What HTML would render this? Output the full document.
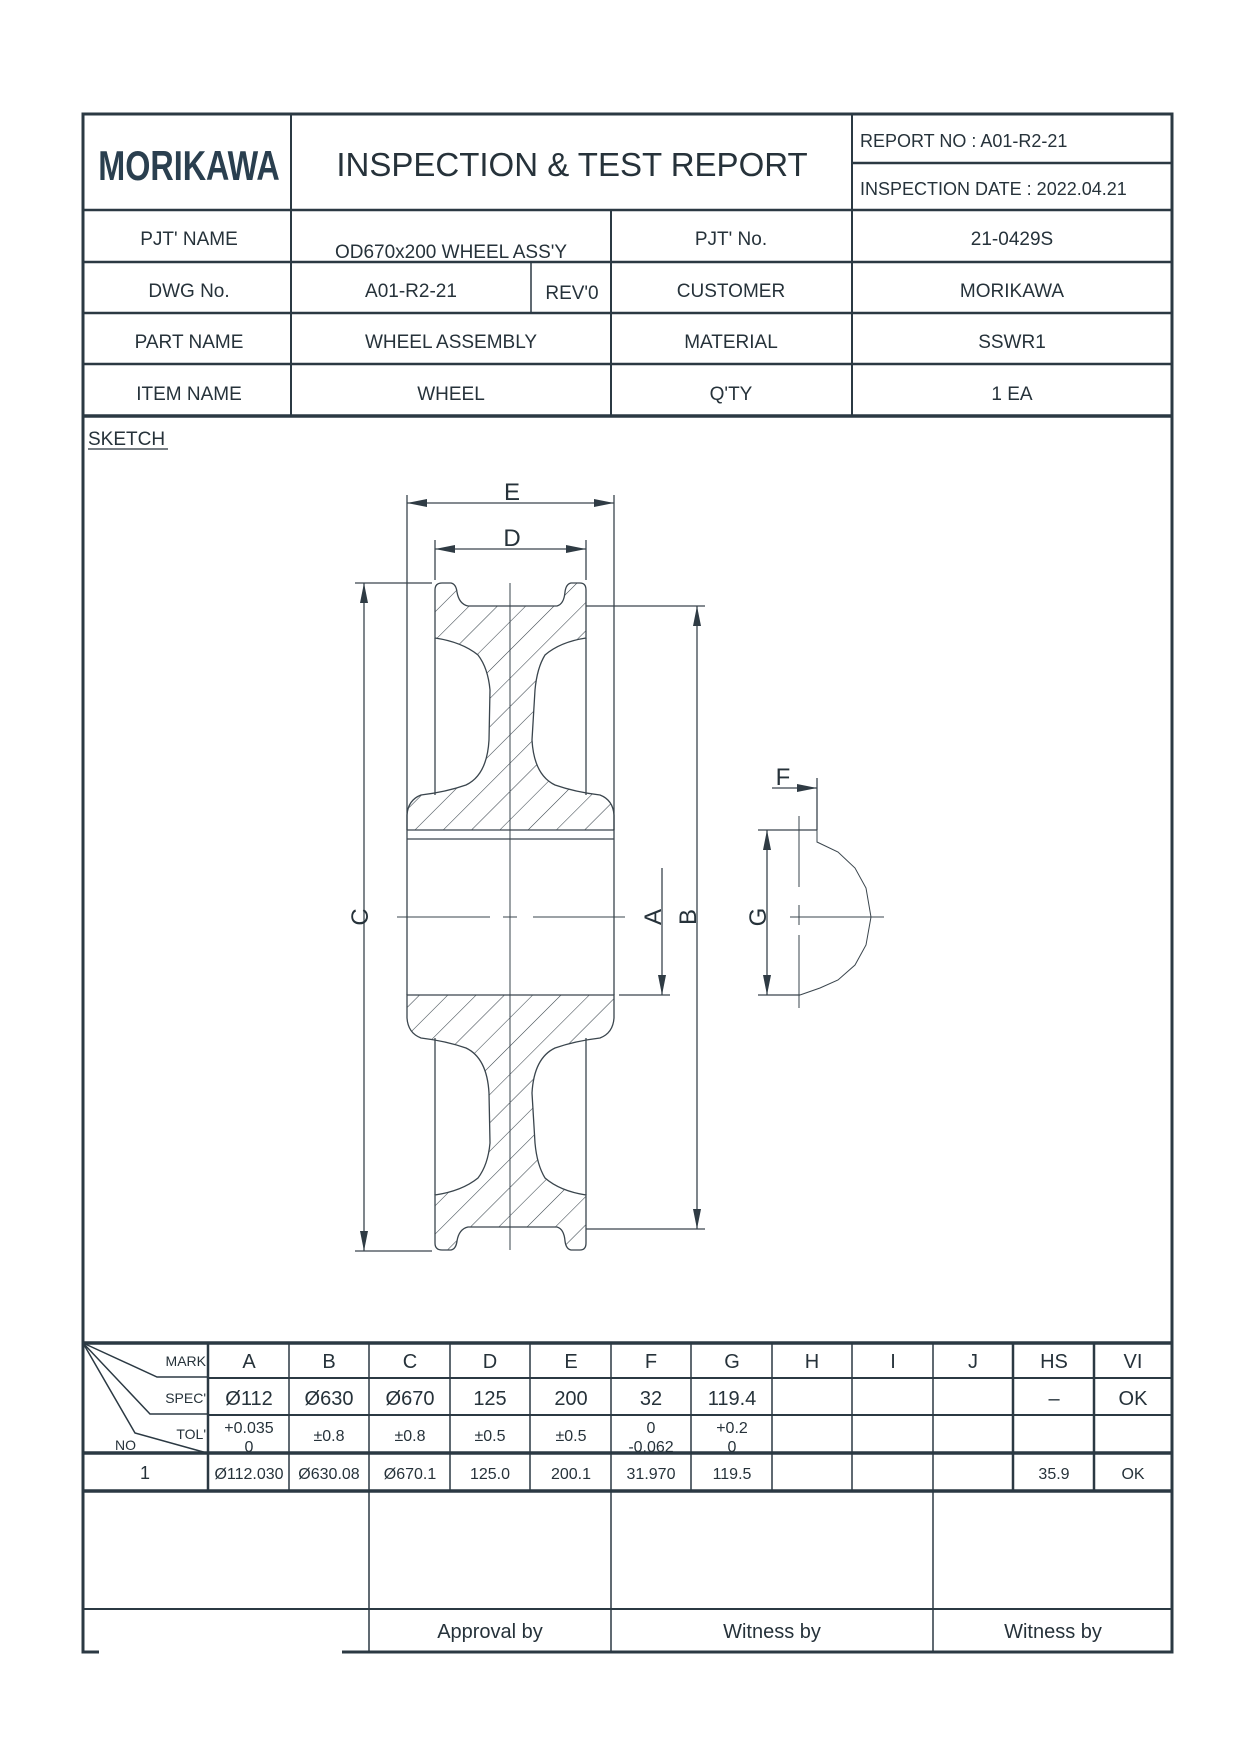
<!DOCTYPE html>
<html><head><meta charset="utf-8"><style>
html,body{margin:0;padding:0;background:#fff}
svg{display:block}
text{font-family:"Liberation Sans",sans-serif;fill:#26323a}
</style></head><body>
<svg width="1240" height="1755" viewBox="0 0 1240 1755" xmlns="http://www.w3.org/2000/svg">
<defs>
<pattern id="h" patternUnits="userSpaceOnUse" width="20" height="20" patternTransform="rotate(45)">
<line x1="0" y1="0" x2="0" y2="20" stroke="#3a454d" stroke-width="1.1"/>
</pattern>
<marker id="ar" viewBox="0 0 20 8" refX="20" refY="4" markerWidth="20" markerHeight="8" markerUnits="userSpaceOnUse" orient="auto-start-reverse">
<path d="M0,0 L20,4 L0,8 z" fill="#2f3b44"/>
</marker>
<path id="sec" d="M435,590 Q435,583 442,583 L451,583 Q456,584 457,592 Q459,604 468,606 L557,606 Q564,604 565,592 Q566,584 571,583 L580,583 Q586,583 586,590 L586,638 Q560,642 545,655 Q537,668 535,690 L532,740 Q534,775 555,785 Q575,792 600,795 Q613,800 614,815 L614,838 L407,838 L407,815 Q408,800 421,795 Q446,792 466,785 Q487,775 489,740 L490,690 Q488,668 478,655 Q462,642 435,638 Z"/>
<clipPath id="cb"><use href="#sec" transform="translate(0,1833) scale(1,-1)"/></clipPath>
</defs>
<g stroke="#2b3943" fill="none">
<rect x="83" y="114" width="1089" height="1538" stroke-width="3"/>
<line x1="83" y1="210" x2="1172" y2="210" stroke-width="2.5"/>
<line x1="83" y1="262" x2="1172" y2="262" stroke-width="2.5"/>
<line x1="83" y1="313" x2="1172" y2="313" stroke-width="2.5"/>
<line x1="83" y1="364" x2="1172" y2="364" stroke-width="2.5"/>
<line x1="83" y1="416" x2="1172" y2="416" stroke-width="3.5"/>
<line x1="852" y1="163" x2="1172" y2="163" stroke-width="2.5"/>
<line x1="291" y1="114" x2="291" y2="416" stroke-width="2"/>
<line x1="852" y1="114" x2="852" y2="416" stroke-width="2"/>
<line x1="611" y1="210" x2="611" y2="416" stroke-width="2"/>
<line x1="531" y1="262" x2="531" y2="313" stroke-width="1.5"/>
<line x1="83" y1="1343" x2="1172" y2="1343" stroke-width="3.5"/>
<line x1="208" y1="1378" x2="1172" y2="1378" stroke-width="2"/>
<line x1="208" y1="1415" x2="1172" y2="1415" stroke-width="2"/>
<line x1="83" y1="1453" x2="1172" y2="1453" stroke-width="3.5"/>
<line x1="83" y1="1491" x2="1172" y2="1491" stroke-width="3.5"/>
<line x1="83" y1="1609" x2="1172" y2="1609" stroke-width="2"/>
<line x1="208" y1="1343" x2="208" y2="1491" stroke-width="2.5"/>
<line x1="289" y1="1343" x2="289" y2="1491" stroke-width="1.5"/>
<line x1="369" y1="1343" x2="369" y2="1652" stroke-width="1.5"/>
<line x1="450" y1="1343" x2="450" y2="1491" stroke-width="1.5"/>
<line x1="530" y1="1343" x2="530" y2="1491" stroke-width="1.5"/>
<line x1="611" y1="1343" x2="611" y2="1652" stroke-width="1.5"/>
<line x1="691" y1="1343" x2="691" y2="1491" stroke-width="1.5"/>
<line x1="772" y1="1343" x2="772" y2="1491" stroke-width="1.5"/>
<line x1="852" y1="1343" x2="852" y2="1491" stroke-width="1.5"/>
<line x1="933" y1="1343" x2="933" y2="1652" stroke-width="1.5"/>
<line x1="1013" y1="1343" x2="1013" y2="1491" stroke-width="2.5"/>
<line x1="1094" y1="1343" x2="1094" y2="1491" stroke-width="2.5"/>
<polyline points="83,1343 157,1377 207,1377" stroke-width="1.5"/>
<polyline points="83,1343 150,1414 207,1414" stroke-width="1.5"/>
<polyline points="83,1343 135,1433 207,1453" stroke-width="1.5"/>
</g>
<rect x="99" y="1611" width="243" height="100" fill="#fff"/>

<text x="189" y="180" font-size="42" font-weight="bold" text-anchor="middle" transform="translate(189 0) scale(0.77 1) translate(-189 0)" style="fill:#2a3f4f">MORIKAWA</text>
<text x="572" y="176" font-size="33" text-anchor="middle">INSPECTION &amp; TEST REPORT</text>
<text x="860" y="147" font-size="18">REPORT NO : A01-R2-21</text>
<text x="860" y="195" font-size="18">INSPECTION DATE : 2022.04.21</text>
<g font-size="19" text-anchor="middle">
<text x="189" y="245">PJT' NAME</text>
<text x="451" y="258">OD670x200 WHEEL ASS'Y</text>
<text x="731" y="245">PJT' No.</text>
<text x="1012" y="245">21-0429S</text>
<text x="189" y="297">DWG No.</text>
<text x="411" y="297">A01-R2-21</text>
<text x="572" y="299">REV'0</text>
<text x="731" y="297">CUSTOMER</text>
<text x="1012" y="297">MORIKAWA</text>
<text x="189" y="348">PART NAME</text>
<text x="451" y="348">WHEEL ASSEMBLY</text>
<text x="731" y="348">MATERIAL</text>
<text x="1012" y="348">SSWR1</text>
<text x="189" y="400">ITEM NAME</text>
<text x="451" y="400">WHEEL</text>
<text x="731" y="400">Q'TY</text>
<text x="1012" y="400">1 EA</text>
</g>
<text x="88" y="445" font-size="19">SKETCH</text>
<line x1="88" y1="449" x2="168" y2="449" stroke="#26323a" stroke-width="1.2"/>

<g stroke="#3a454d" stroke-width="1.3" fill="none">
<use href="#sec" fill="url(#h)" stroke="#3a454d"/>
<rect x="400" y="990" width="220" height="265" fill="url(#h)" stroke="none" clip-path="url(#cb)"/>
<use href="#sec" transform="translate(0,1833) scale(1,-1)" fill="none" stroke="#3a454d"/>
<rect x="400" y="830" width="220" height="9" fill="#fff" stroke="none"/>
<line x1="407" y1="830" x2="614" y2="830"/>
<line x1="407" y1="839" x2="614" y2="839"/>
<line x1="435" y1="638" x2="435" y2="795"/>
<line x1="586" y1="638" x2="586" y2="795"/>
<line x1="435" y1="1038" x2="435" y2="1195"/>
<line x1="586" y1="1038" x2="586" y2="1195"/>
<line x1="407" y1="495" x2="407" y2="995"/>
<line x1="614" y1="495" x2="614" y2="995"/>
<line x1="435" y1="540" x2="435" y2="580"/>
<line x1="586" y1="540" x2="586" y2="580"/>
<line x1="407" y1="503" x2="614" y2="503" marker-start="url(#ar)" marker-end="url(#ar)"/>
<line x1="435" y1="549" x2="586" y2="549" marker-start="url(#ar)" marker-end="url(#ar)"/>
<line x1="510" y1="583" x2="510" y2="1250" stroke-width="1"/>
<line x1="397" y1="917" x2="490" y2="917" stroke-width="1"/>
<line x1="503" y1="917" x2="517" y2="917" stroke-width="1"/>
<line x1="533" y1="917" x2="625" y2="917" stroke-width="1"/>
<line x1="355" y1="583" x2="432" y2="583"/>
<line x1="355" y1="1251" x2="432" y2="1251"/>
<line x1="364" y1="583" x2="364" y2="1251" marker-start="url(#ar)" marker-end="url(#ar)"/>
<line x1="586" y1="606" x2="705" y2="606"/>
<line x1="586" y1="1229" x2="705" y2="1229"/>
<line x1="697" y1="606" x2="697" y2="1229" marker-start="url(#ar)" marker-end="url(#ar)"/>
<line x1="619" y1="995" x2="670" y2="995"/>
<line x1="662" y1="868" x2="662" y2="995" marker-end="url(#ar)"/>
<line x1="772" y1="788" x2="817" y2="788" marker-end="url(#ar)"/>
<line x1="817" y1="778" x2="817" y2="830"/>
<line x1="758" y1="830" x2="817" y2="830"/>
<line x1="758" y1="995" x2="800" y2="995"/>
<line x1="767" y1="830" x2="767" y2="995" marker-start="url(#ar)" marker-end="url(#ar)"/>
<line x1="799" y1="816" x2="799" y2="887" stroke-width="1"/>
<line x1="799" y1="905" x2="799" y2="925" stroke-width="1"/>
<line x1="799" y1="935" x2="799" y2="1008" stroke-width="1"/>
<line x1="790" y1="917" x2="884" y2="917" stroke-width="1"/>
<polyline stroke-width="1" points="817,830 817,842 838,852 855,868 866,888 871,917 866,945 855,965 838,980 820,988 800,995"/>
</g>
<g font-size="24" text-anchor="middle">
<text x="512" y="500">E</text>
<text x="512" y="546">D</text>
<text x="783" y="785">F</text>
<text transform="translate(360 917) rotate(-90)" y="8">C</text>
<text transform="translate(653 917) rotate(-90)" y="8">A</text>
<text transform="translate(688 917) rotate(-90)" y="8">B</text>
<text transform="translate(758 917) rotate(-90)" y="8">G</text>
</g>

<g font-size="14" text-anchor="end">
<text x="206" y="1366">MARK</text>
<text x="206" y="1403">SPEC'</text>
<text x="206" y="1439">TOL'</text>
</g>
<text x="115" y="1450" font-size="14">NO</text>
<g font-size="20" text-anchor="middle">
<text x="249" y="1368">A</text><text x="329" y="1368">B</text><text x="410" y="1368">C</text>
<text x="490" y="1368">D</text><text x="571" y="1368">E</text><text x="651" y="1368">F</text>
<text x="732" y="1368">G</text><text x="812" y="1368">H</text><text x="893" y="1368">I</text>
<text x="973" y="1368">J</text><text x="1054" y="1368">HS</text><text x="1133" y="1368">VI</text>
<text x="249" y="1405">Ø112</text><text x="329" y="1405">Ø630</text><text x="410" y="1405">Ø670</text>
<text x="490" y="1405">125</text><text x="571" y="1405">200</text><text x="651" y="1405">32</text>
<text x="732" y="1405">119.4</text><text x="1054" y="1405">–</text><text x="1133" y="1405">OK</text>
</g>
<g font-size="16" text-anchor="middle">
<text x="249" y="1433">+0.035</text><text x="249" y="1452">0</text>
<text x="329" y="1441">±0.8</text><text x="410" y="1441">±0.8</text>
<text x="490" y="1441">±0.5</text><text x="571" y="1441">±0.5</text>
<text x="651" y="1433">0</text><text x="651" y="1452">-0.062</text>
<text x="732" y="1433">+0.2</text><text x="732" y="1452">0</text>
<text x="145" y="1479" font-size="18">1</text>
<text x="249" y="1479">Ø112.030</text><text x="329" y="1479">Ø630.08</text><text x="410" y="1479">Ø670.1</text>
<text x="490" y="1479">125.0</text><text x="571" y="1479">200.1</text><text x="651" y="1479">31.970</text>
<text x="732" y="1479">119.5</text><text x="1054" y="1479">35.9</text><text x="1133" y="1479">OK</text>
</g>
<g font-size="20" text-anchor="middle">
<text x="490" y="1638">Approval by</text>
<text x="772" y="1638">Witness by</text>
<text x="1053" y="1638">Witness by</text>
</g>
</svg>
</body></html>
